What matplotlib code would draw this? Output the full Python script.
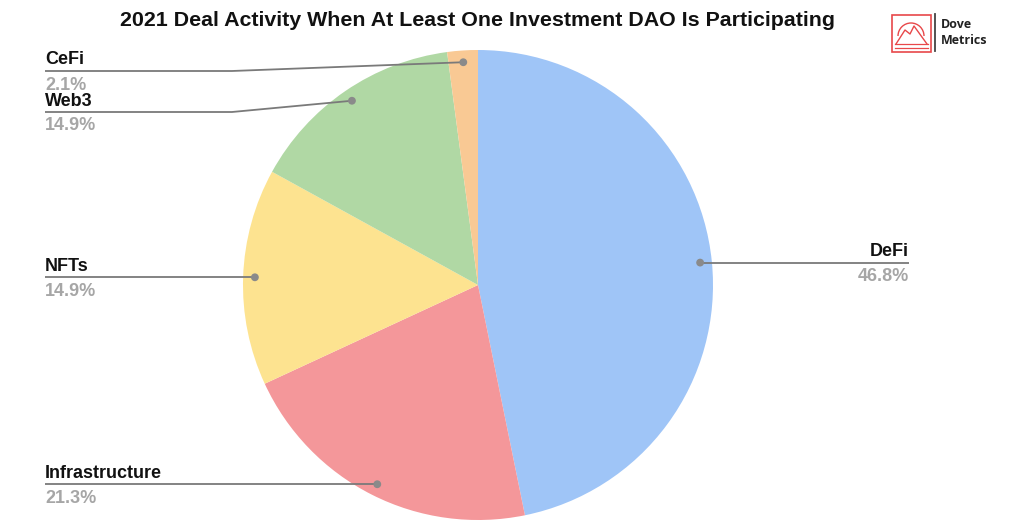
import matplotlib.pyplot as plt
import numpy as np
from matplotlib.patches import Rectangle, Circle, Arc

# data
categories = ["DeFi", "Infrastructure", "NFTs", "Web3", "CeFi"]
shares = [46.8, 21.3, 14.9, 14.9, 2.1]
colors = ["#9fc5f7", "#f4979a", "#fde390", "#b0d8a4", "#f9c994"]

W, H = 1031, 524
fig = plt.figure(figsize=(W / 100, H / 100), dpi=100)
ax = fig.add_axes([0, 0, 1, 1])

cx, cy, R = 478, H - 285, 235
wedges, _ = ax.pie(shares, colors=colors, startangle=90, counterclock=False,
                   center=(cx, cy), radius=R, frame=True,
                   wedgeprops=dict(linewidth=0))
ax.set_xlim(0, W)
ax.set_ylim(0, H)
ax.set_aspect("equal")
ax.axis("off")

# label layout: text x, side, bend (x, y in pixel coords) for lines that kink
layout = {
    "DeFi": (909, "right", None),
    "Infrastructure": (45, "left", None),
    "NFTs": (45, "left", None),
    "Web3": (45, "left", (232, 112)),
    "CeFi": (45, "left", (232, 71)),
}

line_c = "#7a7a7a"
for w, name, pct in zip(wedges, categories, shares):
    mid = np.deg2rad((w.theta1 + w.theta2) / 2)
    px, py = cx + 0.95 * R * np.cos(mid), cy + 0.95 * R * np.sin(mid)
    tx, side, bend = layout[name]
    if bend is None:
        ly = py
        xs, ys = [px, tx], [py, ly]
    else:
        ly = H - bend[1]
        xs, ys = [px, bend[0], tx], [py, ly, ly]
    ax.plot(xs, ys, color=line_c, lw=1.3, solid_capstyle="butt", zorder=3)
    ax.add_patch(Circle((px, py), 3.2, color="#8a8a8a", zorder=4))
    ax.text(tx, ly + 6.5, name, ha=side, va="baseline", fontsize=13,
            fontweight="bold", family="Liberation Sans", color="#111111")
    ax.text(tx, ly - 18.5, f"{pct}%", ha=side, va="baseline", fontsize=13,
            fontweight="bold", family="Liberation Sans", color="#a6a6a6")

ax.text(477, H - 20, "2021 Deal Activity When At Least One Investment DAO Is Participating",
        ha="center", va="center", fontsize=15.4, fontweight="bold",
        family="Liberation Sans", color="#111111")

# logo
red = "#e8484a"
ax.add_patch(Rectangle((892, H - 52), 39, 37, fill=False, ec=red, lw=1.2))
ax.add_patch(Arc((911, H - 36), 26, 26, theta1=0, theta2=180, ec=red, lw=1))
ax.plot([896, 905, 910, 914, 927], [H - 44, H - 30, H - 34, H - 26, H - 44], color=red, lw=1)
ax.plot([895, 928], [H - 44, H - 44], color=red, lw=0.9)
ax.plot([895, 928], [H - 48, H - 48], color=red, lw=0.9)
ax.plot([935, 935], [H - 51, H - 14], color="#444444", lw=1.3)
ax.text(941, H - 25, "Dove", ha="left", va="center", fontsize=9,
        fontweight="bold", family="Open Sans", color="#222222")
ax.text(941, H - 41, "Metrics", ha="left", va="center", fontsize=9,
        fontweight="bold", family="Open Sans", color="#222222")

fig.savefig("out.png", dpi=100)
